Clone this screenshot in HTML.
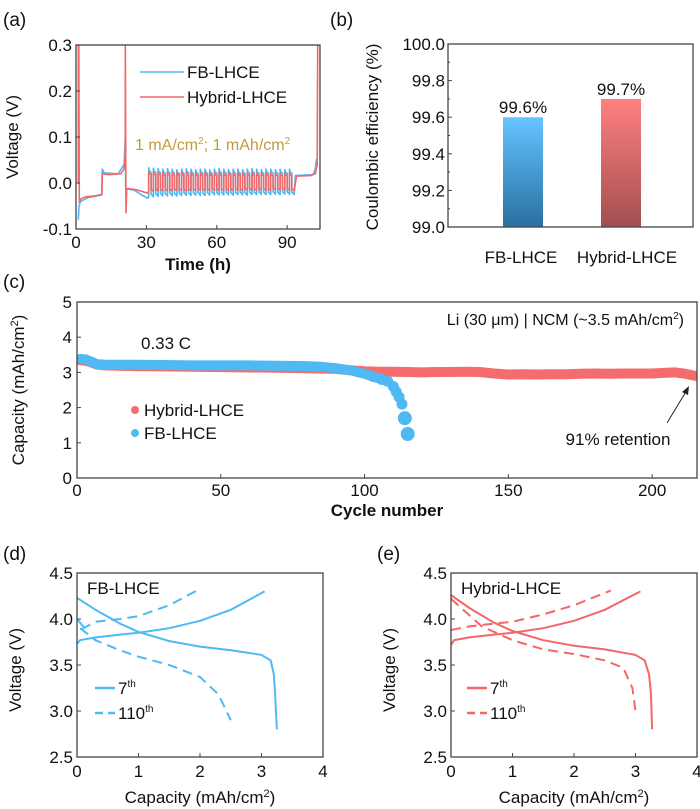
<!DOCTYPE html>
<html><head><meta charset="utf-8"><style>
html,body{margin:0;padding:0;background:#fff;}
svg{display:block;font-family:"Liberation Sans",Arial,sans-serif;}
text{fill:#111;}
</style></head><body>
<svg id="fig" width="700" height="809" viewBox="0 0 700 809" xmlns="http://www.w3.org/2000/svg">
<defs>
<linearGradient id="gBlue" x1="0" y1="0" x2="0" y2="1"><stop offset="0" stop-color="#66c4ff"/><stop offset="1" stop-color="#2870a2"/></linearGradient>
<linearGradient id="gRed" x1="0" y1="0" x2="0" y2="1"><stop offset="0" stop-color="#ff8080"/><stop offset="1" stop-color="#a24f50"/></linearGradient>
<clipPath id="clipA"><rect x="76" y="45" width="244" height="184"/></clipPath>
<clipPath id="clipC"><rect x="77" y="302" width="620" height="176"/></clipPath>
<clipPath id="clipD"><rect x="77" y="573" width="246" height="184"/></clipPath>
<clipPath id="clipE"><rect x="451" y="573" width="246" height="184"/></clipPath>
</defs>
</svg>
<script>
// ---------- Panel (a) data ----------
const aXTicks=[0,30,60,90];
const aYTicks=[-0.1,0.0,0.1,0.2,0.3];
const aYTickLabels=["-0.1","0.0","0.1","0.2","0.3"];
const fbPre=[[1,-0.08],[1.3,-0.05],[2,-0.04],[5,-0.032],[11,-0.026],[11.2,0.03],[12,0.022],[18,0.02],[20.5,0.04],[21,0.1],[21.2,-0.012],[25,-0.016],[28,-0.026],[30.5,-0.033]];
const fbHigh=[0.033,0.032,0.031,0.030,0.031,0.030,0.029,0.030,0.031,0.030,0.029,0.030,0.030,0.029,0.030,0.031,0.030,0.029,0.030,0.030,0.029,0.030,0.031,0.030,0.029,0.030,0.030,0.029,0.030,0.029,0.030];
const fbLow=[-0.030,-0.029,-0.028,-0.028,-0.027,-0.028,-0.027,-0.026,-0.027,-0.026,-0.026,-0.027,-0.026,-0.025,-0.026,-0.026,-0.025,-0.026,-0.025,-0.025,-0.026,-0.025,-0.025,-0.024,-0.025,-0.025,-0.024,-0.025,-0.024,-0.024,-0.025];
const fbPost=[[93.5,0.016],[101,0.018],[102,0.03],[102.5,0.052]];
const hyPre=[[1,0.0],[1,0.31],[1.2,0.31],[1.4,-0.042],[2,-0.035],[4,-0.03],[8,-0.028],[11,-0.025],[11.2,0.02],[14,0.018],[19,0.02],[20.5,0.03],[21,0.06],[21,0.31],[21.3,-0.065],[21.6,-0.012],[25,-0.014],[28,-0.018],[30.5,-0.022]];
const hyHigh=[0.025,0.024,0.024,0.023,0.024,0.023,0.023,0.024,0.023,0.023,0.022,0.023,0.023,0.022,0.023,0.023,0.022,0.023,0.022,0.023,0.022,0.022,0.023,0.022,0.022,0.023,0.022,0.022,0.021,0.022,0.022];
const hyLow=[-0.018,-0.017,-0.017,-0.016,-0.017,-0.016,-0.016,-0.017,-0.016,-0.016,-0.015,-0.016,-0.016,-0.015,-0.016,-0.016,-0.015,-0.016,-0.015,-0.016,-0.015,-0.015,-0.016,-0.015,-0.015,-0.016,-0.015,-0.015,-0.015,-0.015,-0.016];
const hyPost=[[94,0.015],[100,0.016],[102,0.02],[102.8,0.04],[103,0.31]];
const cycleStart=31, cyclePeriod=2;

// ---------- Panel (b) data ----------
const bCategories=["FB-LHCE","Hybrid-LHCE"];
const bValues=[99.6,99.7];
const bValueLabels=["99.6%","99.7%"];
const bYTicks=[99.0,99.2,99.4,99.6,99.8,100.0];
const bYTickLabels=["99.0","99.2","99.4","99.6","99.8","100.0"];

// ---------- Panel (c) data ----------
const cXTicks=[0,50,100,150,200];
const cYTicks=[0,1,2,3,4,5];
const hyCycles=[1,3,5,7,10,20,30,40,50,60,70,80,90,95,100,105,110,115,120,125,130,135,140,145,150,155,160,165,170,175,180,185,190,195,200,205,208,211,215];
const hyCap=[3.35,3.33,3.28,3.22,3.2,3.18,3.17,3.16,3.15,3.14,3.13,3.12,3.1,3.06,3.03,3.02,3.02,3.01,3.0,3.01,3.01,3.02,3.01,2.97,2.94,2.95,2.94,2.95,2.95,2.96,2.97,2.96,2.97,2.97,2.97,2.99,3.0,2.97,2.9];
const fbCycles=[1,3,5,7,10,20,30,40,50,60,70,80,85,90,95,100,103,106,108,110,111,112,113,114,115];
const fbCap=[3.38,3.37,3.3,3.23,3.22,3.22,3.21,3.2,3.2,3.2,3.19,3.18,3.16,3.12,3.06,2.96,2.88,2.8,2.75,2.6,2.45,2.3,2.1,1.7,1.25];

// ---------- Panel (d)/(e) data ----------
const deXTicks=[0,1,2,3,4];
const deYTicks=[2.5,3.0,3.5,4.0,4.5];
const deYTickLabels=["2.5","3.0","3.5","4.0","4.5"];
const d7Chg=[[0,3.73],[0.05,3.77],[0.3,3.8],[0.7,3.83],[1,3.85],[1.5,3.9],[2,3.98],[2.5,4.1],[3.05,4.3]];
const d7Dis=[[0,4.23],[0.3,4.1],[0.7,3.95],[1,3.86],[1.5,3.76],[2,3.7],[2.5,3.66],[3,3.61],[3.15,3.55],[3.2,3.4],[3.22,3.2],[3.25,2.8]];
const d110Chg=[[0,4.0],[0.1,3.92],[0.05,3.88],[0.3,3.97],[0.7,4.0],[1,4.03],[1.5,4.15],[1.95,4.31]];
const d110Dis=[[0.05,3.9],[0.3,3.77],[0.7,3.66],[1,3.59],[1.5,3.5],[2,3.37],[2.3,3.18],[2.5,2.9]];
const e7Chg=[[0,3.72],[0.05,3.77],[0.3,3.8],[0.7,3.83],[1,3.85],[1.5,3.9],[2,3.98],[2.5,4.1],[3.08,4.3]];
const e7Dis=[[0,4.26],[0.3,4.12],[0.7,3.96],[1,3.87],[1.5,3.77],[2,3.71],[2.5,3.67],[3,3.61],[3.15,3.55],[3.22,3.4],[3.25,3.2],[3.27,2.8]];
const e110Chg=[[0,3.88],[0.3,3.92],[0.7,3.95],[1,3.97],[1.5,4.05],[2,4.15],[2.6,4.31]];
const e110Dis=[[0,4.22],[0.5,3.92],[1,3.77],[1.5,3.67],[2,3.62],[2.5,3.55],[2.8,3.47],[2.95,3.25],[3.0,3.0]];

const FS=17;
const NS="http://www.w3.org/2000/svg";
const svg=document.getElementById('fig');
function mk(tag,attrs,parent){const e=document.createElementNS(NS,tag);for(const k in attrs)e.setAttribute(k,attrs[k]);(parent||svg).appendChild(e);return e;}
function txt(x,y,s,size,anchor,parent,extra){const t=mk('text',Object.assign({x:x,y:y,'font-size':size,'text-anchor':anchor||'start'},extra||{}),parent);t.textContent=s;return t;}
function lin(d0,d1,r0,r1){return v=>r0+(v-d0)*(r1-r0)/(d1-d0);}
function pathOf(pts,sx,sy){return pts.map((p,i)=>(i?'L':'M')+sx(p[0]).toFixed(1)+' '+sy(p[1]).toFixed(1)).join(' ');}
function frame(x0,y0,x1,y1,g){const r=mk('rect',{x:x0,y:y0,width:x1-x0,height:y1-y0,fill:'none',stroke:'#444','stroke-width':1.3},g);}

// ===== Panel (a) =====
const ga=mk('g',{});

const ax=lin(0,104,76,320), ay=lin(-0.1,0.3,229,45);
let l=txt(3,26,'(a)',19,'start',ga);
function cyc(pre,hi,lo,post){const pts=pre.slice();for(let i=0;i<hi.length;i++){const t0=cycleStart+i*cyclePeriod;pts.push([t0,lo[i]],[t0,hi[i]],[t0+0.3,hi[i]*0.8],[t0+1,hi[i]*0.72],[t0+1,lo[i]*0.8],[t0+2,lo[i]]);}return pts.concat(post);}
const ca=mk('g',{'clip-path':'url(#clipA)'},ga);
let p=mk('path',{d:pathOf(cyc(fbPre,fbHigh,fbLow,fbPost),ax,ay),fill:'none',stroke:'#4db8f2','stroke-width':1.6,'stroke-linejoin':'round'},ca);

p=mk('path',{d:pathOf(cyc(hyPre,hyHigh,hyLow,hyPost),ax,ay),fill:'none',stroke:'#f26767','stroke-width':1.6,'stroke-linejoin':'round'},ca);

frame(76,45,320,229,ga);
aXTicks.forEach(v=>{mk('line',{x1:ax(v),x2:ax(v),y1:229,y2:225,stroke:'#444'},ga);const t=txt(ax(v),248,String(v),FS,'middle',ga);});
aYTicks.forEach((v,i)=>{mk('line',{x1:76,x2:80,y1:ay(v),y2:ay(v),stroke:'#444'},ga);const t=txt(72,ay(v)+6,aYTickLabels[i],FS,'end',ga);});
l=txt(198,270,'Time (h)',FS,'middle',ga,{'font-weight':'bold'});
l=txt(0,0,'Voltage (V)',FS,'middle',ga,{transform:'translate(18,137) rotate(-90)'});
let lg=mk('g',{},ga);
mk('line',{x1:140,x2:184,y1:72,y2:72,stroke:'#4db8f2','stroke-width':1.6},lg);txt(187,78,'FB-LHCE',FS,'start',lg);
lg=mk('g',{},ga);
mk('line',{x1:140,x2:184,y1:97,y2:97,stroke:'#f26767','stroke-width':1.6},lg);txt(187,103,'Hybrid-LHCE',FS,'start',lg);
l=mk('text',{x:135,y:150,'font-size':16,style:'fill:#c49a3c'},ga);l.innerHTML='1 mA/cm<tspan font-size="10" dy="-6">2</tspan><tspan dy="6">; 1 mAh/cm</tspan><tspan font-size="10" dy="-6">2</tspan>';


// ===== Panel (b) =====
const gb=mk('g',{});

const by=lin(99.0,100.0,227,44);
const bCenters=[523,621], bW=40;
l=txt(330,26,'(b)',19,'start',gb);
bCategories.forEach((c,i)=>{const r=mk('rect',{x:bCenters[i]-bW/2,y:by(bValues[i]),width:bW,height:227-by(bValues[i]),fill:i?'url(#gRed)':'url(#gBlue)'},gb);

const t=txt(bCenters[i],by(bValues[i])-4,bValueLabels[i],FS,'middle',gb);
const cl=txt(bCenters[i]+(i?6:-2),263,c,FS,'middle',gb);});
frame(448,44,693,227,gb);
bYTicks.forEach((v,i)=>{mk('line',{x1:448,x2:452,y1:by(v),y2:by(v),stroke:'#444'},gb);if(i<bYTicks.length-1)mk('line',{x1:448,x2:450,y1:(by(v)+by(bYTicks[i+1]))/2,y2:(by(v)+by(bYTicks[i+1]))/2,stroke:'#444'},gb);const t=txt(445,by(v)+6,bYTickLabels[i],FS,'end',gb);});
l=txt(0,0,'Coulombic efficiency (%)',FS,'middle',gb,{transform:'translate(378,137) rotate(-90)'});

// ===== Panel (c) =====
const gc=mk('g',{});

const cx=lin(0,215.6,77,697), cy=lin(0,5,478,302);
l=txt(3,288,'(c)',19,'start',gc);
const cc=mk('g',{'clip-path':'url(#clipC)'},gc);
const hyPts=hyCycles.map((c,i)=>[c,hyCap[i]]), fbPts=fbCycles.map((c,i)=>[c,fbCap[i]]);
p=mk('path',{d:pathOf(hyPts,cx,cy),fill:'none',stroke:'#f56c6c','stroke-width':10,'stroke-linejoin':'round','stroke-linecap':'round'},cc);

p=mk('path',{d:pathOf(fbPts.filter(q=>q[0]<=106),cx,cy),fill:'none',stroke:'#4fb9f4','stroke-width':10,'stroke-linejoin':'round','stroke-linecap':'round'},cc);

fbPts.filter(q=>q[0]>=103).forEach(q=>{const c=mk('circle',{cx:cx(q[0]),cy:cy(q[1]),r:q[1]<2?7:5.5,fill:'#4fb9f4'},cc);});
frame(77,302,697,478,gc);
cXTicks.forEach(v=>{mk('line',{x1:cx(v),x2:cx(v),y1:478,y2:474,stroke:'#444'},gc);const t=txt(cx(v),496,String(v),FS,'middle',gc);});
cYTicks.forEach(v=>{mk('line',{x1:77,x2:81,y1:cy(v),y2:cy(v),stroke:'#444'},gc);const t=txt(72,cy(v)+6,String(v),FS,'end',gc);});
l=txt(387,516,'Cycle number',FS,'middle',gc,{'font-weight':'bold'});
l=mk('text',{'font-size':FS,'text-anchor':'middle',transform:'translate(24,390) rotate(-90)'},gc);l.innerHTML='Capacity (mAh/cm<tspan font-size="11" dy="-6">2</tspan><tspan dy="6">)</tspan>';

l=mk('text',{x:684,y:325,'font-size':16,'text-anchor':'end'},gc);l.innerHTML='Li (30 μm) | NCM (~3.5 mAh/cm<tspan font-size="10" dy="-6">2</tspan><tspan dy="6">)</tspan>';

l=txt(141,349,'0.33 C',FS,'start',gc);
lg=mk('g',{},gc);
mk('circle',{cx:135,cy:410,r:4,fill:'#f56c6c'},lg);txt(144,416,'Hybrid-LHCE',FS,'start',lg);
lg=mk('g',{},gc);
mk('circle',{cx:135,cy:433,r:4,fill:'#4fb9f4'},lg);txt(144,439,'FB-LHCE',FS,'start',lg);
l=txt(618,445,'91% retention',FS,'middle',gc);
l=mk('line',{x1:667,y1:423,x2:687,y2:390,stroke:'#222','stroke-width':1},gc);
mk('path',{d:'M689 386 L682 392 L688 395 Z',fill:'#222'},gc);

// ===== Panels (d),(e) =====
function vc(g0,x0,name,lab,labX,title,color,c7,d7,c110,d110,legX){
 const g=mk('g',{});
 const sx=lin(0,4,x0,x0+246), sy=lin(2.5,4.5,757,573);
 let t=txt(labX,560,lab,19,'start',g);
 const c=mk('g',{'clip-path':g0},g);
 [[c7,'none','7th-charge'],[d7,'none','7th-discharge'],[c110,'10 6','110th-charge'],[d110,'10 6','110th-discharge']].forEach(s=>{const q=mk('path',{d:pathOf(s[0],sx,sy),fill:'none',stroke:color,'stroke-width':2,'stroke-dasharray':s[1]},c);});
 frame(x0,573,x0+246,757,g);
 deXTicks.forEach(v=>{mk('line',{x1:sx(v),x2:sx(v),y1:757,y2:753,stroke:'#444'},g);const k=txt(sx(v),777,String(v),FS,'middle',g);});
 deYTicks.forEach((v,i)=>{mk('line',{x1:x0,x2:x0+4,y1:sy(v),y2:sy(v),stroke:'#444'},g);const k=txt(x0-4,sy(v)+6,deYTickLabels[i],FS,'end',g);});
 t=mk('text',{x:x0+123,y:803,'font-size':FS,'text-anchor':'middle'},g);t.innerHTML='Capacity (mAh/cm<tspan font-size="11" dy="-6">2</tspan><tspan dy="6">)</tspan>';
 
 t=txt(0,0,'Voltage (V)',FS,'middle',g,{transform:'translate('+(x0-56)+',670) rotate(-90)'});
 t=txt(x0+10,594,title,FS,'start',g);
 let e=mk('g',{},g);
 mk('line',{x1:legX,x2:legX+20,y1:688,y2:688,stroke:color,'stroke-width':2.5},e);
 t=mk('text',{x:legX+23,y:694,'font-size':FS},e);t.innerHTML='7<tspan font-size="10" dy="-7">th</tspan>';
 e=mk('g',{},g);
 mk('line',{x1:legX,x2:legX+8,y1:713,y2:713,stroke:color,'stroke-width':2.5},e);mk('line',{x1:legX+13,x2:legX+20,y1:713,y2:713,stroke:color,'stroke-width':2.5},e);
 t=mk('text',{x:legX+23,y:719,'font-size':FS},e);t.innerHTML='110<tspan font-size="10" dy="-7">th</tspan>';
}
vc('url(#clipD)',77,'panel-d','(d)',3,'FB-LHCE','#4fb9f4',d7Chg,d7Dis,d110Chg,d110Dis,95);
vc('url(#clipE)',451,'panel-e','(e)',377,'Hybrid-LHCE','#f26767',e7Chg,e7Dis,e110Chg,e110Dis,467);
</script>
</body></html>
